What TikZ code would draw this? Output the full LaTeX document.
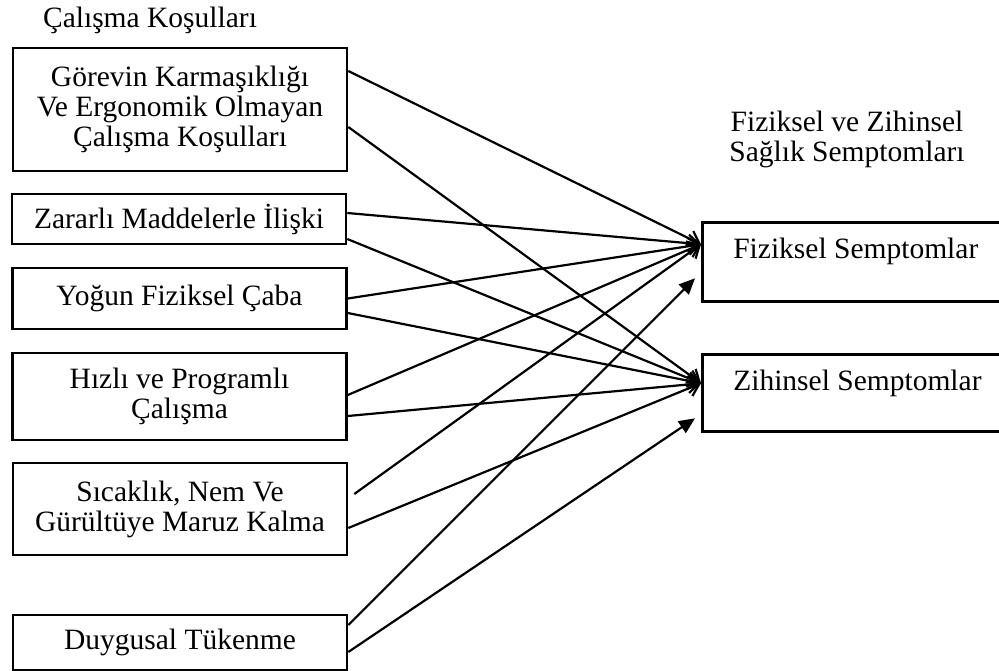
\documentclass[tikz,border=0pt]{standalone}
\usepackage{fontspec}
\setmainfont{Liberation Serif}
\usetikzlibrary{arrows.meta}

\begin{document}
\begin{tikzpicture}[
    x=1pt, y=-1pt,
    every node/.style={font=\fontsize{29.5}{30}\selectfont},
    factor/.style={draw, line width=2.6pt, align=center, inner sep=0pt, minimum width=334pt},
    symptom/.style={draw, line width=2.6pt, anchor=north west, inner xsep=31pt, inner ysep=0pt, text height=36pt},
    link/.style={->, line width=2.2pt},
    heavy/.style={-{Triangle[length=16pt,width=14pt]}, line width=2.2pt},
    >={Straight Barb[length=11pt,width=17pt]}
]
\useasboundingbox (0,0) rectangle (999,671);

% Nodes
\node (titleL) at (150,20) {Çalışma Koşulları};
\node[align=center] (titleR) at (847,139) {Fiziksel ve Zihinsel\\Sağlık Semptomları};

\node[factor, minimum height=123pt] (gorev) at (180,109.5) {Görevin Karmaşıklığı\\Ve Ergonomik Olmayan\\Çalışma Koşulları};
\node[factor, minimum height=50pt] (zarar) at (179,219) {Zararlı Maddelerle İlişki};
\node[factor, minimum height=61pt] (yogun) at (179.5,298.5) {Yoğun Fiziksel Çaba};
\node[factor, minimum height=87pt] (hizli) at (179.5,396.5) {Hızlı ve Programlı\\Çalışma};
\node[factor, minimum height=92pt] (sicak) at (180,509) {Sıcaklık, Nem Ve\\Gürültüye Maruz Kalma};
\node[factor, minimum height=55pt] (duygu) at (180,642.5) {Duygusal Tükenme};

\node[symptom, text depth=43pt] (fizik) at (701,221) {Fiziksel Semptomlar};
\node[symptom, text depth=41pt] (zihin) at (701,353) {Zihinsel Semptomlar};

% Arrows
\draw[link] ([yshift=38.5pt]gorev.east) -- ([yshift=17.5pt]fizik.west);
\draw[link] ([yshift=-17.5pt]gorev.east) -- ([yshift=9.5pt]zihin.west);
\draw[link] ([yshift=6pt]zarar.east) -- ([yshift=17.5pt]fizik.west);
\draw[link] ([yshift=-20pt]zarar.east) -- ([yshift=9.5pt]zihin.west);
\draw[link] (yogun.east) -- ([yshift=17.5pt]fizik.west);
\draw[link] ([yshift=-14.5pt]yogun.east) -- ([yshift=9.5pt]zihin.west);
\draw[link] ([yshift=1.5pt]hizli.east) -- ([yshift=17.5pt]fizik.west);
\draw[link] ([yshift=-19.5pt]hizli.east) -- ([yshift=9.5pt]zihin.west);
\draw[link] ([xshift=6pt,yshift=15pt]sicak.east) -- ([yshift=17.5pt]fizik.west);
\draw[link] ([yshift=-19pt]sicak.east) -- ([yshift=9.5pt]zihin.west);
\draw[heavy] ([yshift=17.5pt]duygu.east) -- ([xshift=-6pt,yshift=-16.5pt]fizik.west);
\draw[heavy] ([yshift=-9.5pt]duygu.east) -- ([xshift=-6pt,yshift=-25.5pt]zihin.west);

\end{tikzpicture}
\end{document}
